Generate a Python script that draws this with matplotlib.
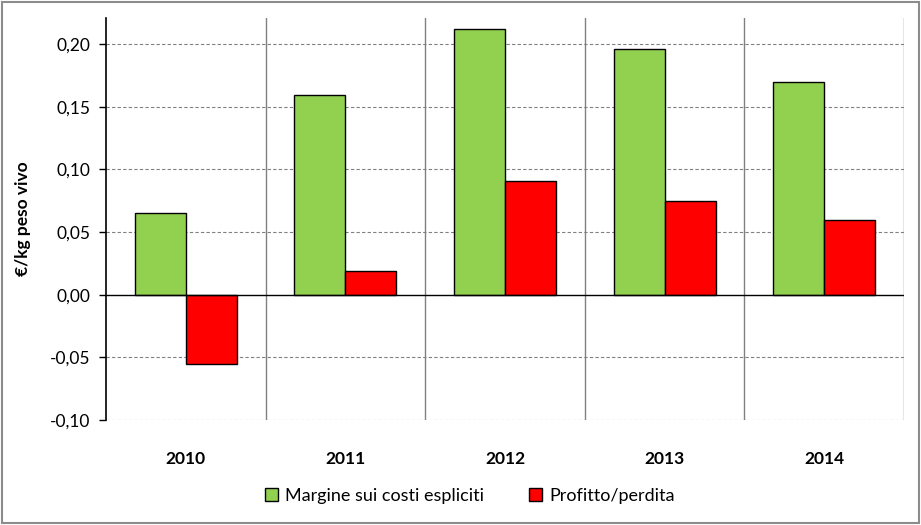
import numpy as np
import matplotlib.pyplot as plt
from matplotlib.ticker import FuncFormatter

years = ['2010', '2011', '2012', '2013', '2014']
margine = [0.065, 0.159, 0.212, 0.196, 0.170]
profitto = [-0.055, 0.019, 0.091, 0.075, 0.060]
labels = ['Margine sui costi espliciti', 'Profitto/perdita']
yticks = [-0.10, -0.05, 0.00, 0.05, 0.10, 0.15, 0.20]

plt.rcParams['font.family'] = ['Lato', 'DejaVu Sans']

fig = plt.figure(figsize=(9.21, 5.25), dpi=100)
ax = fig.add_axes([106 / 921, 1 - 420 / 525, (904 - 106) / 921, (420 - 18) / 525])

x = np.arange(len(years))
w = 0.32
ax.bar(x - w / 2, margine, w, color='#92D050', edgecolor='black', linewidth=1, label=labels[0], zorder=3)
ax.bar(x + w / 2, profitto, w, color='#FF0000', edgecolor='black', linewidth=1, label=labels[1], zorder=3)

ax.set_xlim(-0.5, len(years) - 0.5)
ax.set_ylim(-0.10, 0.2208)
ax.set_yticks(yticks)
ax.yaxis.set_major_formatter(FuncFormatter(lambda v, p: ('%.2f' % v).replace('.', ',')))
ax.tick_params(axis='y', labelsize=12.5, length=5, width=1, direction='out', pad=6)
ax.set_xticks(x)
ax.set_xticklabels(years, fontsize=12.5, fontweight='bold')
ax.tick_params(axis='x', length=0, pad=22)

for v in yticks:
    if v != 0:
        ax.axhline(v, color='#808080', linestyle=(0, (3, 2)), linewidth=0.8, zorder=1)
for i in range(len(years)):
    ax.axvline(i + 0.5, color='#808080', linewidth=1, zorder=1)
ax.axhline(0, color='black', linewidth=1, zorder=4)

for s in ['top', 'right', 'bottom']:
    ax.spines[s].set_visible(False)
ax.spines['left'].set_linewidth(1.2)

ax.set_ylabel('€/kg peso vivo', fontsize=12.5, fontweight='bold', labelpad=14)

leg = fig.legend(loc='center', bbox_to_anchor=(470 / 921, 1 - 496 / 525), ncol=2, frameon=False,
                 fontsize=13, handlelength=0.7, handleheight=0.7, columnspacing=2.5, handletextpad=0.4)

fig.patches.append(plt.Rectangle((0.002, 0.003), 0.996, 0.994, transform=fig.transFigure,
                                 fill=False, edgecolor='#8c8c8c', linewidth=1.5))

fig.savefig('out.png', dpi=100)
